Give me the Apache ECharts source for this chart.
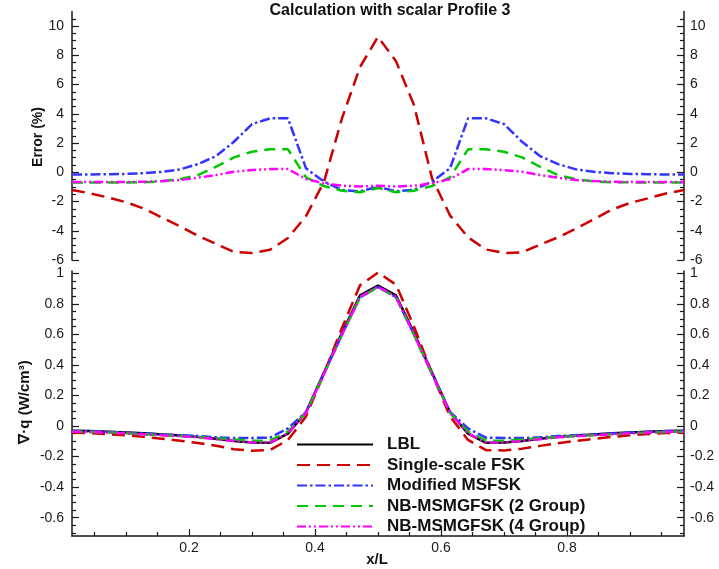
<!DOCTYPE html>
<html>
<head>
<meta charset="utf-8">
<script src="https://cdn.jsdelivr.net/npm/echarts@6/dist/echarts.min.js"></script>
<style>
  html, body { margin: 0; padding: 0; background: #fff; }
  #chart { width: 719px; height: 569px; }
</style>
</head>
<body>
<div id="chart"></div>
<script>
// Cell-centre positions x/L (35 cells)
const XL = [0.0143, 0.0429, 0.0714, 0.1000, 0.1286, 0.1571, 0.1857, 0.2143, 0.2429, 0.2714,
            0.3000, 0.3286, 0.3571, 0.3857, 0.4143, 0.4429, 0.4714, 0.5000, 0.5286, 0.5571,
            0.5857, 0.6143, 0.6429, 0.6714, 0.7000, 0.7286, 0.7571, 0.7857, 0.8143, 0.8429,
            0.8714, 0.9000, 0.9286, 0.9571, 0.9857];

// Relative error (%) of each model against LBL
const errSingleScale = [-1.21, -1.44, -1.72, -2.05, -2.48, -3.10, -3.70, -4.35, -4.90, -5.45,
                        -5.52, -5.30, -4.50, -3.00, -0.65, 3.70, 7.20, 9.27, 7.60, 4.60,
                        -0.40, -2.95, -4.45, -5.28, -5.52, -5.48, -4.95, -4.45, -3.85, -3.20,
                        -2.55, -2.10, -1.78, -1.45, -1.21];
const errModified = [-0.15, -0.15, -0.13, -0.11, -0.06, 0.03, 0.20, 0.56, 1.11, 2.09,
                     3.30, 3.69, 3.69, 0.27, -0.64, -1.21, -1.30, -1.00, -1.30, -1.21,
                     -0.64, 0.27, 3.69, 3.69, 3.30, 2.09, 1.11, 0.56, 0.20, 0.03,
                     -0.06, -0.11, -0.13, -0.15, -0.15];
const errNB2 = [-0.70, -0.70, -0.70, -0.69, -0.68, -0.62, -0.48, -0.19, 0.38, 1.02,
                1.41, 1.57, 1.57, -0.35, -0.94, -1.26, -1.36, -1.08, -1.36, -1.26,
                -0.94, -0.35, 1.57, 1.57, 1.41, 1.02, 0.38, -0.19, -0.48, -0.62,
                -0.68, -0.69, -0.70, -0.70, -0.70];
const errNB4 = [-0.66, -0.66, -0.66, -0.66, -0.65, -0.60, -0.53, -0.37, -0.19, 0.04,
                0.15, 0.22, 0.22, -0.46, -0.76, -0.92, -0.97, -0.92, -0.97, -0.92,
                -0.76, -0.46, 0.22, 0.22, 0.15, 0.04, -0.19, -0.37, -0.53, -0.60,
                -0.65, -0.66, -0.66, -0.66, -0.66];

// Radiative source term, div q (W/cm^3)
const qLBL = [-0.031, -0.033, -0.037, -0.042, -0.048, -0.055, -0.062, -0.071, -0.084, -0.098,
              -0.108, -0.110, -0.050, 0.090, 0.350, 0.610, 0.855, 0.920, 0.855, 0.610,
              0.350, 0.090, -0.050, -0.110, -0.108, -0.098, -0.084, -0.071, -0.062, -0.055,
              -0.048, -0.042, -0.037, -0.033, -0.031];
const qSingleScale = [-0.042, -0.046, -0.053, -0.061, -0.071, -0.083, -0.096, -0.111, -0.129, -0.152,
                      -0.162, -0.157, -0.091, 0.062, 0.344, 0.644, 0.921, 1.005, 0.925, 0.652,
                      0.346, 0.063, -0.091, -0.158, -0.160, -0.148, -0.130, -0.112, -0.097, -0.084,
                      -0.071, -0.061, -0.053, -0.046, -0.042];
const qModified = [-0.032, -0.034, -0.038, -0.043, -0.049, -0.055, -0.060, -0.066, -0.074, -0.079,
                   -0.078, -0.076, -0.016, 0.092, 0.344, 0.599, 0.843, 0.911, 0.843, 0.599,
                   0.344, 0.092, -0.016, -0.076, -0.078, -0.079, -0.074, -0.066, -0.060, -0.055,
                   -0.049, -0.043, -0.038, -0.034, -0.032];
const qNB2 = [-0.037, -0.039, -0.043, -0.048, -0.054, -0.061, -0.066, -0.073, -0.080, -0.089,
              -0.095, -0.096, -0.036, 0.087, 0.341, 0.598, 0.842, 0.910, 0.842, 0.598,
              0.341, 0.087, -0.036, -0.096, -0.095, -0.089, -0.080, -0.073, -0.066, -0.061,
              -0.054, -0.048, -0.043, -0.039, -0.037];
const qNB4 = [-0.037, -0.039, -0.043, -0.048, -0.054, -0.061, -0.067, -0.074, -0.086, -0.098,
              -0.107, -0.108, -0.048, 0.086, 0.343, 0.600, 0.846, 0.912, 0.846, 0.600,
              0.343, 0.086, -0.048, -0.108, -0.107, -0.098, -0.086, -0.074, -0.067, -0.061,
              -0.054, -0.048, -0.043, -0.039, -0.037];

// Tick positions and labels
const xTicks = [0.2, 0.4, 0.6, 0.8];
const xMinorTicks = [0.05, 0.1, 0.15, 0.25, 0.3, 0.35, 0.45, 0.5, 0.55, 0.65, 0.7, 0.75, 0.85, 0.9, 0.95];
const errTicks = [-6, -4, -2, 0, 2, 4, 6, 8, 10];
const errMinorTicks = [-5.5, -5, -4.5, -3.5, -3, -2.5, -1.5, -1, -0.5, 0.5, 1, 1.5, 2.5, 3, 3.5,
                       4.5, 5, 5.5, 6.5, 7, 7.5, 8.5, 9, 9.5, 10.5];
const qTicks = [-0.6, -0.4, -0.2, 0, 0.2, 0.4, 0.6, 0.8, 1];
const qMinorTicks = [-0.7, -0.65, -0.55, -0.5, -0.45, -0.35, -0.3, -0.25, -0.15, -0.1, -0.05,
                     0.05, 0.1, 0.15, 0.25, 0.3, 0.35, 0.45, 0.5, 0.55, 0.65, 0.7, 0.75,
                     0.85, 0.9, 0.95];

const names = ['LBL', 'Single-scale FSK', 'Modified MSFSK', 'NB-MSMGFSK (2 Group)', 'NB-MSMGFSK (4 Group)'];
const colors = ['#000000', '#cc0000', '#3333ff', '#00c800', '#ff00ff'];
const dashes = ['solid', [13, 7], [10, 3, 2.5, 3], [11, 7], [9, 3, 2, 3, 2, 3]];

const X_MIN = 0.0142857, X_MAX = 0.9857143;
const FONT = '"Liberation Sans", Arial, Helvetica, sans-serif';
const AXIS_COLOR = '#1a1a1a';

const pairs = ys => XL.map((x, i) => [x, ys[i]]);

function yAxisDef(grid, pos, min, max, ticks, minor) {
  return {
    type: 'value', gridIndex: grid, position: pos, min: min, max: max,
    axisLine: { show: !minor, onZero: false, lineStyle: { color: AXIS_COLOR, width: 1.5 } },
    axisTick: { show: true, inside: true, length: minor ? 4 : 7, customValues: ticks,
                lineStyle: { color: AXIS_COLOR, width: 1.2 } },
    axisLabel: minor ? { show: false } : {
      show: true, customValues: ticks, margin: pos === 'left' ? 8 : 6,
      fontFamily: FONT, fontSize: 14, color: AXIS_COLOR
    },
    splitLine: { show: false }
  };
}

const series = [];
// Error panel (top)
[[1, errSingleScale], [2, errModified], [3, errNB2], [4, errNB4]].forEach(([k, ys]) => {
  series.push({
    name: names[k], type: 'line', xAxisIndex: 0, yAxisIndex: 0,
    data: pairs(ys), symbol: 'none', showSymbol: false, silent: true,
    lineStyle: { color: colors[k], width: 2.5, type: dashes[k] },
    itemStyle: { color: colors[k] }
  });
});
// Source term panel (bottom)
[[0, qLBL], [1, qSingleScale], [2, qModified], [3, qNB2], [4, qNB4]].forEach(([k, ys]) => {
  series.push({
    name: names[k], type: 'line', xAxisIndex: 1, yAxisIndex: 4,
    data: pairs(ys), symbol: 'none', showSymbol: false, silent: true,
    lineStyle: { color: colors[k], width: 2.5, type: dashes[k] },
    itemStyle: { color: colors[k] }
  });
});

const chart = echarts.init(document.getElementById('chart'), null, { renderer: 'canvas' });
chart.setOption({
  animation: false,
  backgroundColor: '#ffffff',
  grid: [
    { left: 72, right: 35, top: 11.5, height: 248.5 },
    { left: 72, right: 35, top: 271, height: 265 }
  ],
  xAxis: [
    { type: 'value', gridIndex: 0, min: X_MIN, max: X_MAX, show: false },
    {
      type: 'value', gridIndex: 1, position: 'bottom', min: X_MIN, max: X_MAX,
      axisLine: { show: true, onZero: false, lineStyle: { color: AXIS_COLOR, width: 1.5 } },
      axisTick: { inside: true, length: 7, customValues: xTicks, lineStyle: { color: AXIS_COLOR, width: 1.2 } },
      axisLabel: { customValues: xTicks, margin: 5, fontFamily: FONT, fontSize: 14, color: AXIS_COLOR },
      splitLine: { show: false }
    },
    {
      type: 'value', gridIndex: 1, position: 'bottom', min: X_MIN, max: X_MAX,
      axisLine: { show: false, onZero: false },
      axisTick: { inside: true, length: 4, customValues: xMinorTicks, lineStyle: { color: AXIS_COLOR, width: 1.2 } },
      axisLabel: { show: false },
      splitLine: { show: false }
    }
  ],
  yAxis: [
    yAxisDef(0, 'left', -6, 11, errTicks, false),
    yAxisDef(0, 'left', -6, 11, errMinorTicks, true),
    yAxisDef(0, 'right', -6, 11, errTicks, false),
    yAxisDef(0, 'right', -6, 11, errMinorTicks, true),
    yAxisDef(1, 'left', -0.72, 1.015, qTicks, false),
    yAxisDef(1, 'left', -0.72, 1.015, qMinorTicks, true),
    yAxisDef(1, 'right', -0.72, 1.015, qTicks, false),
    yAxisDef(1, 'right', -0.72, 1.015, qMinorTicks, true)
  ],
  legend: {
    data: names,
    orient: 'vertical',
    left: 296, top: 436, padding: 0,
    itemWidth: 76, itemHeight: 14, itemGap: 3.5,
    selectedMode: false,
    itemStyle: { opacity: 0 },
    textStyle: { fontFamily: FONT, fontSize: 17, fontWeight: 'bold', color: '#111',
                 padding: [0, 0, 0, 9] }
  },
  graphic: [
    { type: 'text', x: 390, y: 11, silent: true,
      style: { text: 'Calculation with scalar Profile 3', font: 'bold 16px ' + FONT, fill: '#111',
               align: 'center', verticalAlign: 'middle', textAlign: 'center', textVerticalAlign: 'middle' } },
    { type: 'text', x: 38, y: 137, rotation: Math.PI / 2, silent: true,
      style: { text: 'Error (%)', font: 'bold 14px ' + FONT, fill: '#111',
               align: 'center', verticalAlign: 'middle', textAlign: 'center', textVerticalAlign: 'middle' } },
    { type: 'text', x: 25, y: 402, rotation: Math.PI / 2, silent: true,
      style: { text: '\u2207\u00B7q (W/cm\u00B3)', font: 'bold 15px ' + FONT, fill: '#111',
               align: 'center', verticalAlign: 'middle', textAlign: 'center', textVerticalAlign: 'middle' } },
    { type: 'text', x: 377, y: 560, silent: true,
      style: { text: 'x/L', font: 'bold 15px ' + FONT, fill: '#111',
               align: 'center', verticalAlign: 'middle', textAlign: 'center', textVerticalAlign: 'middle' } }
  ],
  series: series
});
</script>
</body>
</html>
